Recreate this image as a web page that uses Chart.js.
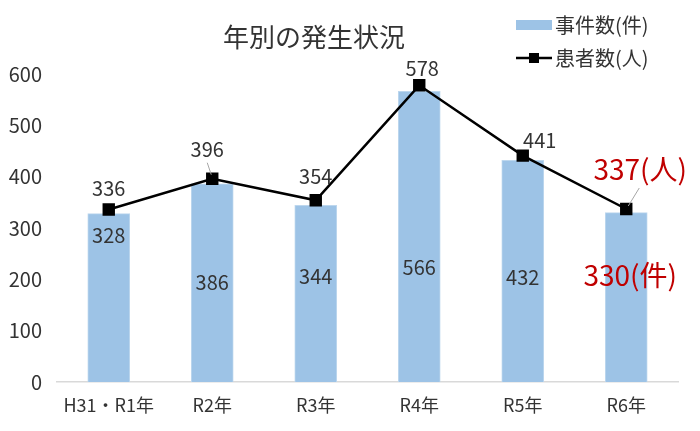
<!DOCTYPE html>
<html>
<head>
<meta charset="utf-8">
<script src="https://cdn.jsdelivr.net/npm/chart.js@4"></script>
<style>
  html, body { margin: 0; padding: 0; background: #fff; }
  #wrap { width: 700px; height: 431px; }
</style>
</head>
<body>
<div id="wrap"><canvas id="chart" width="700" height="431"></canvas></div>
<script>
// chart data
const years = ['H31・R1年', 'R2年', 'R3年', 'R4年', 'R5年', 'R6年'];
const caseCounts = [328, 386, 344, 566, 432, 330];      // 事件数(件)
const patientCounts = [336, 396, 354, 578, 441, 337];   // 患者数(人)
const yTicks = [0, 100, 200, 300, 400, 500, 600];

const FONT = "'Noto Sans CJK JP', 'Noto Sans', sans-serif";
const TEXT = '#333333';
const RED = '#C00000';
const BAR_COLOR = '#9DC3E6';

// label nudges (px) for the data labels
const lineLabelShift = [[0, -21], [-5, -29], [0, -24], [3, -17], [17, -15], [14, -40]];
const barLabelShift = [[0, -62], [0, -1], [0, -17], [0, 31], [0, 6], [4, -22]];

// title, legend and data labels
const decorations = {
    id: 'decorations',
    afterDatasetsDraw(chart) {
        const ctx = chart.ctx;
        const last = years.length - 1;
        ctx.save();
        ctx.textAlign = 'center';
        ctx.textBaseline = 'middle';

        // bar labels
        const bars = chart.getDatasetMeta(1).data;
        bars.forEach((bar, i) => {
            const cy = (bar.y + bar.base) / 2 + barLabelShift[i][1];
            const cx = bar.x + barLabelShift[i][0];
            if (i === last) {
                ctx.font = '28px ' + FONT;
                ctx.fillStyle = RED;
                ctx.fillText(caseCounts[i] + '(件)', cx, cy);
            } else {
                ctx.font = '20px ' + FONT;
                ctx.fillStyle = TEXT;
                ctx.fillText(caseCounts[i], cx, cy);
            }
        });

        // line labels
        const pts = chart.getDatasetMeta(0).data;
        pts.forEach((pt, i) => {
            const cx = pt.x + lineLabelShift[i][0];
            const cy = pt.y + lineLabelShift[i][1];
            if (i === 1 || i === last) {
                // small leader line
                ctx.strokeStyle = '#A6A6A6';
                ctx.lineWidth = 1;
                ctx.beginPath();
                if (i === last) {
                    ctx.moveTo(cx - 1, cy + 19);
                    ctx.lineTo(pt.x + 2, pt.y - 3);
                } else {
                    ctx.moveTo(cx, cy + 13);
                    ctx.lineTo(pt.x - 1, pt.y - 4);
                }
                ctx.stroke();
            }
            if (i === last) {
                ctx.font = '28px ' + FONT;
                ctx.fillStyle = RED;
                ctx.fillText(patientCounts[i] + '(人)', cx, cy);
            } else {
                ctx.font = '20px ' + FONT;
                ctx.fillStyle = TEXT;
                ctx.fillText(patientCounts[i], cx, cy);
            }
        });

        // title
        ctx.font = '26px ' + FONT;
        ctx.fillStyle = TEXT;
        ctx.fillText('年別の発生状況', 314, 37);

        // legend
        ctx.textAlign = 'left';
        ctx.font = '20px ' + FONT;
        ctx.fillStyle = BAR_COLOR;
        ctx.fillRect(516, 20, 36, 10);
        ctx.fillStyle = TEXT;
        ctx.fillText('事件数(件)', 555, 25);

        ctx.strokeStyle = '#000';
        ctx.lineWidth = 2.5;
        ctx.beginPath();
        ctx.moveTo(516, 58);
        ctx.lineTo(552, 58);
        ctx.stroke();
        ctx.fillStyle = '#000';
        ctx.fillRect(529, 53, 10, 10);
        ctx.fillStyle = TEXT;
        ctx.fillText('患者数(人)', 555, 58);
        ctx.restore();
    }
};

const ctx = document.getElementById('chart').getContext('2d');
const chart = new Chart(ctx, {
    type: 'bar',
    data: {
        labels: years,
        datasets: [{
            type: 'line',
            label: '患者数(人)',
            data: patientCounts,
            borderColor: '#000',
            backgroundColor: '#000',
            borderWidth: 2.5,
            pointStyle: 'rect',
            pointRadius: 7,
            pointHoverRadius: 7,
            tension: 0,
            order: 0
        }, {
            type: 'bar',
            label: '事件数(件)',
            data: caseCounts,
            backgroundColor: BAR_COLOR,
            borderColor: '#BDD7EE',
            borderWidth: 1,
            barThickness: 42,
            order: 1
        }]
    },
    options: {
        responsive: false,
        animation: false,
        layout: {
            padding: { top: 74, right: 22, bottom: 0, left: 0 }
        },
        plugins: {
            legend: { display: false },
            title: { display: false },
            tooltip: { enabled: false }
        },
        scales: {
            x: {
                afterFit: (scale) => { scale.height = 49; },
                grid: { display: false, drawTicks: false },
                border: { display: true, color: '#D9D9D9', width: 1.5 },
                ticks: { color: TEXT, padding: 12, font: { family: FONT, size: 18 } }
            },
            y: {
                min: 0,
                max: 600,
                afterBuildTicks: (scale) => {
                    scale.ticks = yTicks.map(v => ({ value: v }));
                },
                afterFit: (scale) => { scale.width = 57; },
                grid: { display: false, drawTicks: false },
                border: { display: false },
                ticks: { color: TEXT, padding: 15, font: { family: FONT, size: 20 } }
            }
        }
    },
    plugins: [decorations]
});
</script>
</body>
</html>
